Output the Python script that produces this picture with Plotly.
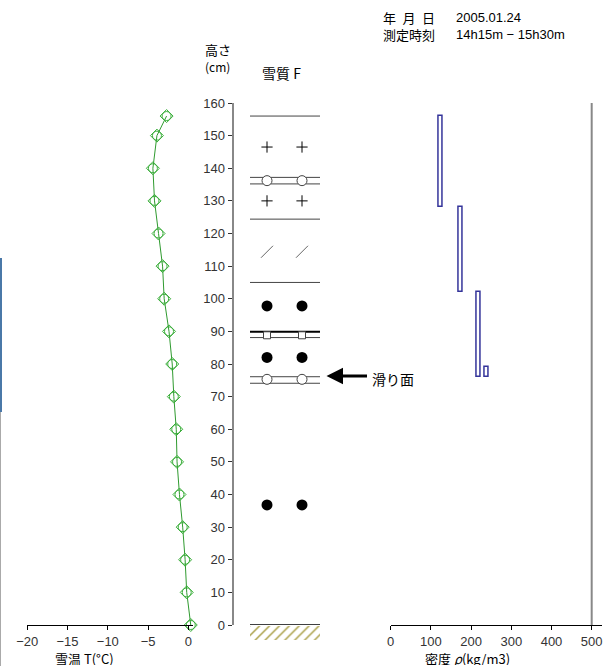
import plotly.graph_objects as go

W, H = 606, 666
def px(x): return x / W
def py(y): return 1 - y / H

# ---------------- data ----------------
heights_t = [0, 10, 20, 30, 40, 50, 60, 70, 80, 90, 100, 110, 120, 130, 140, 150, 156]
temps = [0.3, -0.2, -0.4, -0.7, -1.1, -1.4, -1.5, -1.8, -2.0, -2.4, -3.0, -3.2, -3.7, -4.2, -4.4, -3.9, -2.7]

height_ticks = list(range(0, 161, 10))
temp_ticks = [-20, -15, -10, -5, 0]
dens_ticks = [0, 100, 200, 300, 400, 500]

dens_low = [120, 170, 215, 233]
dens_high = [130, 180, 225, 245]
dens_top = [156, 128, 102, 79]
dens_bottom = [128, 102, 76, 76]

layer_lines = [156, 137.2, 135.2, 124.4, 105, 89.9, 88.1, 76.1, 74.1]
thick_lines = [89.9]
plus_h = [146.5, 130.0]
ring_h = [136.2, 75.3]
slash_h = [114.4]
dot_h = [97.8, 82.0, 36.8]
square_h = [88.8]
hoar_h = [90.4]
slip_h = 76.3

# ---------------- figure ----------------
fig = go.Figure()
GREEN_L = '#2f9a2f'
GREEN_M = '#3aae3a'

fig.add_trace(go.Scatter(x=temps, y=heights_t, mode='lines', line=dict(color=GREEN_L, width=1),
                         xaxis='x', yaxis='y', cliponaxis=False, hoverinfo='skip'))
fig.add_trace(go.Scatter(x=temps, y=heights_t, mode='markers',
                         marker=dict(symbol='circle-open', size=9, color=GREEN_M, line=dict(width=1)),
                         xaxis='x', yaxis='y', cliponaxis=False))
fig.add_trace(go.Scatter(x=temps, y=heights_t, mode='markers',
                         marker=dict(symbol='diamond-open', size=10, color=GREEN_M, line=dict(width=1)),
                         xaxis='x', yaxis='y', cliponaxis=False))

# density boxes
fig.add_trace(go.Bar(
    orientation='h',
    y=[(t + b) / 2 for t, b in zip(dens_top, dens_bottom)],
    width=[t - b for t, b in zip(dens_top, dens_bottom)],
    base=dens_low,
    x=[h - l for h, l in zip(dens_high, dens_low)],
    marker=dict(color='white', line=dict(color='#34349a', width=1.5)),
    xaxis='x2', yaxis='y', cliponaxis=False))

# ground hatch (own small axis below the ground line)
fig.add_trace(go.Bar(x=[0.5], y=[-1], base=[0], width=[1],
                     marker=dict(color='white', line=dict(width=0),
                                 pattern=dict(shape='/', fgcolor='#a59a3c', bgcolor='white', size=7, solidity=0.2)),
                     xaxis='x3', yaxis='y3'))

cols = [0.243, 0.743]
def col_pts(hs):
    xs, ys = [], []
    for h in hs:
        for c in cols:
            xs.append(c); ys.append(h)
    return xs, ys

xs, ys = col_pts(plus_h)
fig.add_trace(go.Scatter(x=xs, y=ys, mode='markers', xaxis='x3', yaxis='y', cliponaxis=False,
                         marker=dict(symbol='cross-thin', size=8, color='black', line=dict(width=1, color='black'))))
xs, ys = col_pts(slash_h)
fig.add_trace(go.Scatter(x=xs, y=ys, mode='markers', xaxis='x3', yaxis='y', cliponaxis=False,
                         marker=dict(symbol='line-ne', size=12, color='#666', line=dict(width=1, color='#666'))))
xs, ys = col_pts(dot_h)
fig.add_trace(go.Scatter(x=xs, y=ys, mode='markers', xaxis='x3', yaxis='y', cliponaxis=False,
                         marker=dict(symbol='circle', size=11, color='black', line=dict(width=0))))
xs, ys = col_pts(ring_h)
fig.add_trace(go.Scatter(x=xs, y=ys, mode='markers', xaxis='x3', yaxis='y', cliponaxis=False,
                         marker=dict(symbol='circle', size=10, color='white', line=dict(width=1, color='#444'))))
xs, ys = col_pts(square_h)
fig.add_trace(go.Scatter(x=xs, y=ys, mode='markers', xaxis='x3', yaxis='y', cliponaxis=False,
                         marker=dict(symbol='square', size=7, color='white', line=dict(width=1, color='#444'))))
fig.add_trace(go.Scatter(x=[-0.1], y=hoar_h, mode='markers', xaxis='x3', yaxis='y', cliponaxis=False,
                         marker=dict(symbol='circle', size=11, color='white', line=dict(width=1, color='#444'))))

shapes = []
for h in layer_lines:
    shapes.append(dict(type='line', xref='x3', yref='y', x0=0, x1=1, y0=h, y1=h, layer='below',
                       line=dict(color='black' if h in thick_lines else '#444', width=2 if h in thick_lines else 1)))
shapes.append(dict(type='line', xref='x3', yref='y', x0=0, x1=1, y0=0, y1=0,
                   line=dict(color='black', width=1.5)))
shapes.append(dict(type='line', xref='x2', yref='y', x0=500, x1=500, y0=0, y1=160,
                   line=dict(color='#888', width=2)))
# window edge artifacts
shapes.append(dict(type='line', xref='paper', yref='paper', x0=px(1), x1=px(1), y0=py(258), y1=py(412),
                   line=dict(color='#4a78a8', width=2)))
shapes.append(dict(type='line', xref='paper', yref='paper', x0=px(0.5), x1=px(0.5), y0=py(412), y1=py(666),
                   line=dict(color='#aaa', width=1)))

JP = 'Noto Sans CJK JP'
NUM = 'Liberation Sans, Noto Sans CJK JP'
tickfont = dict(family=NUM, size=13, color='#333')

def ann(text, x, y, size=14, family=JP, yanchor='middle', height=None):
    d = dict(text=text, x=px(x), y=py(y), xref='paper', yref='paper', xanchor='left', yanchor=yanchor,
             align='left', showarrow=False, borderpad=0, font=dict(family=family, size=size, color='black'))
    if height:
        d['height'] = height
        d['valign'] = 'middle'
    return d

annotations = [
    ann('高さ<br><span style="font-size:12px">(cm)</span>', 204, 57, 13),
    ann('雪質 F', 261, 73, 14),
    ann('年\u2002月\u2002日<br>測定時刻', 382, 26, 13),
    ann('2005.01.24<br>14h15m − 15h30m', 455, 26, 13, NUM),
    ann('雪温 T(°C)', 54, 666, 13, yanchor='bottom', height=14),
    ann('密度 <i>ρ</i>(kg/m3)', 424, 666, 13, yanchor='bottom', height=14),
    ann('滑り面', 371, 379, 14),
    dict(text='', x=px(326.5), y=slip_h, xref='paper', yref='y', ax=42, ay=0, axref='pixel', ayref='pixel',
         showarrow=True, arrowhead=2, arrowwidth=3, arrowsize=1.1, arrowcolor='black', standoff=0),
]

common_ax = dict(showgrid=False, zeroline=False, automargin=False)
fig.update_layout(
    template='none',
    width=W, height=H, margin=dict(l=0, r=0, t=0, b=0, pad=0), autosize=False,
    paper_bgcolor='white', plot_bgcolor='rgba(0,0,0,0)', showlegend=False, bargap=0,
    barmode='overlay',
    yaxis=dict(domain=[py(625), py(103)], range=[0, 160], anchor='free', position=px(232.5),
               tickvals=height_ticks, ticks='outside', ticklen=4, tickcolor='#333',
               showline=True, linecolor='#888', linewidth=2, tickfont=tickfont, **common_ax),
    yaxis2=dict(overlaying='y', range=[0, 160], anchor='free', position=px(232.5), tickvals=height_ticks,
                ticks='inside', ticklen=4, tickcolor='#333', showticklabels=False, showline=False, **common_ax),
    yaxis3=dict(domain=[py(640), py(625.5)], range=[-1, 0], anchor='x3', visible=False, **common_ax),
    xaxis=dict(domain=[px(27.3), px(193)], range=[-20, 0.58], anchor='y', tickvals=temp_ticks,
               ticks='outside', ticklen=4, tickcolor='black', showline=True, linecolor='black', linewidth=1,
               tickfont=tickfont, **common_ax),
    xaxis4=dict(overlaying='x', range=[-20, 0.58], anchor='y', tickvals=temp_ticks, ticks='inside', ticklen=8,
                tickcolor='black', showticklabels=False, showline=False, **common_ax),
    xaxis2=dict(domain=[px(390.7), px(601.7)], range=[0, 524.9], anchor='y', tickvals=dens_ticks,
                ticks='outside', ticklen=4, tickcolor='black', showline=True, linecolor='black', linewidth=1,
                tickfont=tickfont, **common_ax),
    xaxis5=dict(overlaying='x2', range=[0, 524.9], anchor='y', tickvals=dens_ticks, ticks='inside', ticklen=8,
                tickcolor='black', showticklabels=False, showline=False, **common_ax),
    xaxis3=dict(domain=[px(250), px(320)], range=[0, 1], anchor='y', visible=False, **common_ax),
    shapes=shapes, annotations=annotations,
)

fig.write_html('out.html', config={'displayModeBar': False},
               post_script="document.body.style.margin='0px';")
